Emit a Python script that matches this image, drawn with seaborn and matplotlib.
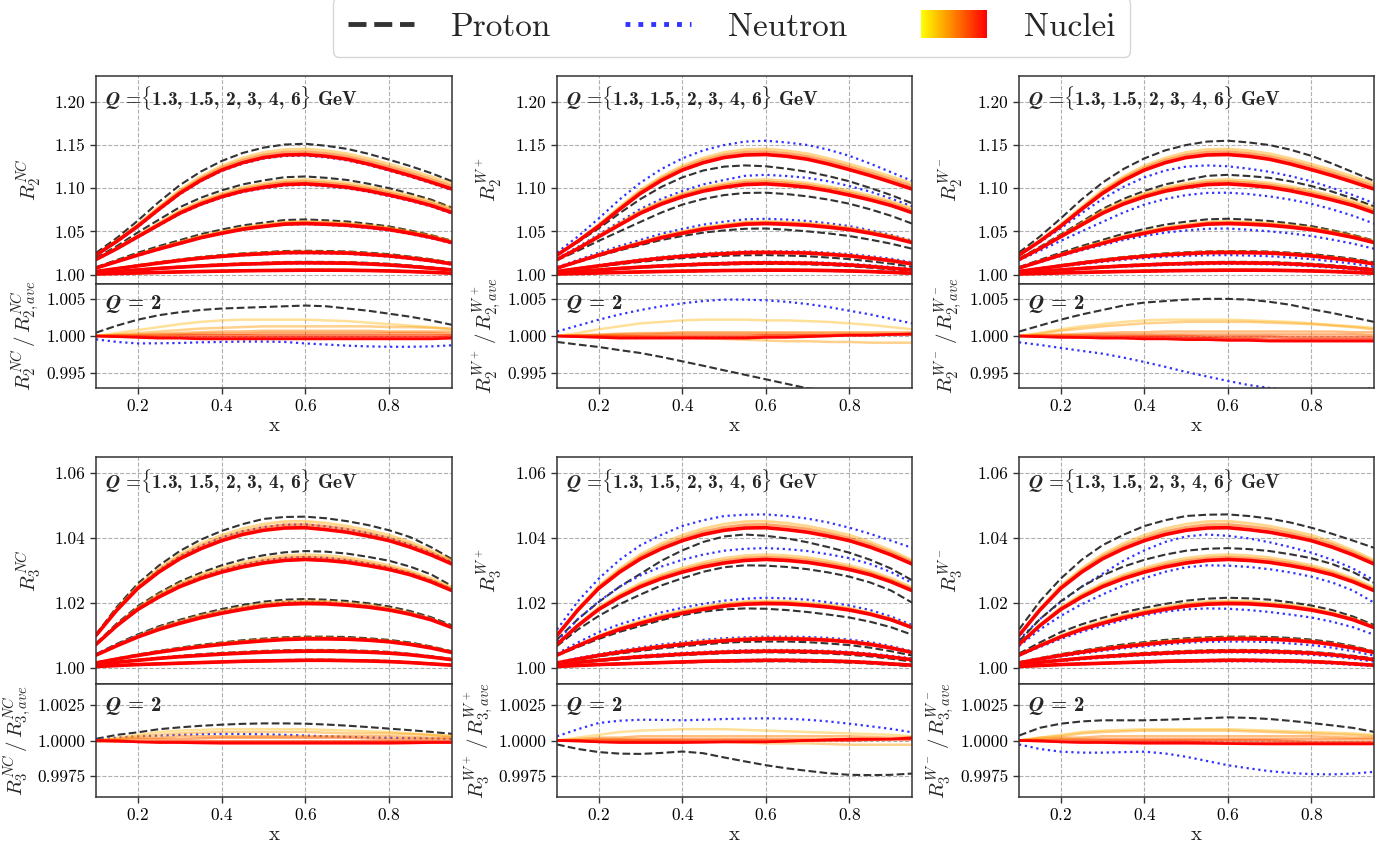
import matplotlib
matplotlib.use("Agg")
import matplotlib.pyplot as plt
import seaborn as sns
from matplotlib.lines import Line2D
from matplotlib.patches import Rectangle
from matplotlib.legend_handler import HandlerBase
from matplotlib.ticker import FormatStrFormatter, FixedLocator

# ---------------------------------------------------------------- data
x_grid = [0.10, 0.15, 0.20, 0.25, 0.30, 0.35, 0.40, 0.45, 0.50,
          0.55, 0.60, 0.65, 0.70, 0.75, 0.80, 0.85, 0.90, 0.95]
q_values = [1.3, 1.5, 2, 3, 4, 6]

# F2 nuclei (light, intermediate, heavy), one row per Q
r2_nuclei_light = [
    [1.0225, 1.0395, 1.0580, 1.0785, 1.0980, 1.1135, 1.1260, 1.1350, 1.1415, 1.1448, 1.1455, 1.1435, 1.1400, 1.1345, 1.1280, 1.1211, 1.1135, 1.1055],
    [1.0174, 1.0308, 1.0453, 1.0597, 1.0740, 1.0850, 1.0938, 1.1008, 1.1055, 1.1090, 1.1100, 1.1084, 1.1060, 1.1020, 1.0970, 1.0914, 1.0850, 1.0767],
    [1.0075, 1.0155, 1.0235, 1.0310, 1.0378, 1.0446, 1.0499, 1.0547, 1.0579, 1.0608, 1.0615, 1.0607, 1.0595, 1.0572, 1.0543, 1.0500, 1.0450, 1.0388],
    [1.0035, 1.0070, 1.0104, 1.0138, 1.0169, 1.0197, 1.0219, 1.0237, 1.0250, 1.0262, 1.0265, 1.0262, 1.0258, 1.0243, 1.0225, 1.0199, 1.0169, 1.0130],
    [1.0018, 1.0036, 1.0055, 1.0073, 1.0088, 1.0103, 1.0114, 1.0124, 1.0131, 1.0138, 1.0140, 1.0138, 1.0136, 1.0127, 1.0115, 1.0098, 1.0077, 1.0057],
    [1.0006, 1.0012, 1.0019, 1.0025, 1.0031, 1.0036, 1.0041, 1.0045, 1.0048, 1.0050, 1.0052, 1.0052, 1.0051, 1.0048, 1.0043, 1.0036, 1.0027, 1.0017],
]
r2_nuclei_mid = [
    [1.0225, 1.0390, 1.0570, 1.0770, 1.0960, 1.1113, 1.1235, 1.1323, 1.1385, 1.1417, 1.1423, 1.1403, 1.1368, 1.1313, 1.1248, 1.1179, 1.1103, 1.1023],
    [1.0174, 1.0304, 1.0446, 1.0586, 1.0725, 1.0833, 1.0919, 1.0987, 1.1033, 1.1066, 1.1075, 1.1059, 1.1035, 1.0995, 1.0945, 1.0889, 1.0825, 1.0742],
    [1.0075, 1.0153, 1.0230, 1.0303, 1.0369, 1.0436, 1.0488, 1.0536, 1.0567, 1.0596, 1.0603, 1.0595, 1.0583, 1.0560, 1.0532, 1.0489, 1.0440, 1.0379],
    [1.0035, 1.0069, 1.0102, 1.0135, 1.0166, 1.0193, 1.0215, 1.0233, 1.0245, 1.0257, 1.0260, 1.0257, 1.0253, 1.0238, 1.0220, 1.0194, 1.0165, 1.0126],
    [1.0018, 1.0036, 1.0054, 1.0072, 1.0087, 1.0101, 1.0112, 1.0122, 1.0129, 1.0136, 1.0138, 1.0136, 1.0134, 1.0125, 1.0113, 1.0096, 1.0075, 1.0055],
    [1.0006, 1.0012, 1.0018, 1.0024, 1.0030, 1.0035, 1.0040, 1.0044, 1.0047, 1.0049, 1.0051, 1.0051, 1.0050, 1.0047, 1.0042, 1.0035, 1.0026, 1.0016],
]
r2_nuclei_heavy = [
    [1.0225, 1.0385, 1.0560, 1.0755, 1.0940, 1.1090, 1.1210, 1.1295, 1.1355, 1.1385, 1.1390, 1.1370, 1.1335, 1.1280, 1.1215, 1.1146, 1.1070, 1.0990],
    [1.0174, 1.0300, 1.0438, 1.0575, 1.0710, 1.0816, 1.0900, 1.0966, 1.1010, 1.1042, 1.1050, 1.1034, 1.1010, 1.0970, 1.0920, 1.0864, 1.0800, 1.0717],
    [1.0075, 1.0150, 1.0225, 1.0295, 1.0360, 1.0426, 1.0477, 1.0524, 1.0555, 1.0583, 1.0590, 1.0582, 1.0570, 1.0548, 1.0520, 1.0478, 1.0430, 1.0370],
    [1.0035, 1.0068, 1.0100, 1.0132, 1.0162, 1.0189, 1.0210, 1.0228, 1.0240, 1.0252, 1.0255, 1.0252, 1.0248, 1.0233, 1.0215, 1.0189, 1.0160, 1.0122],
    [1.0018, 1.0035, 1.0053, 1.0070, 1.0085, 1.0099, 1.0110, 1.0120, 1.0126, 1.0133, 1.0135, 1.0133, 1.0131, 1.0122, 1.0110, 1.0093, 1.0073, 1.0053],
    [1.0006, 1.0012, 1.0018, 1.0024, 1.0030, 1.0035, 1.0039, 1.0043, 1.0046, 1.0048, 1.0050, 1.0050, 1.0049, 1.0046, 1.0041, 1.0034, 1.0025, 1.0015],
]

# F2 neutral current, free nucleons
r2_nc_proton = [
    [1.0250, 1.0425, 1.0625, 1.0840, 1.1035, 1.1192, 1.1315, 1.1408, 1.1470, 1.1506, 1.1515, 1.1491, 1.1455, 1.1399, 1.1330, 1.1257, 1.1175, 1.1080],
    [1.0190, 1.0330, 1.0488, 1.0635, 1.0780, 1.0889, 1.0975, 1.1044, 1.1090, 1.1127, 1.1136, 1.1120, 1.1095, 1.1052, 1.1000, 1.0938, 1.0868, 1.0775],
    [1.0085, 1.0169, 1.0253, 1.0329, 1.0398, 1.0467, 1.0521, 1.0569, 1.0601, 1.0631, 1.0638, 1.0628, 1.0614, 1.0588, 1.0557, 1.0510, 1.0457, 1.0391],
    [1.0036, 1.0072, 1.0108, 1.0143, 1.0175, 1.0204, 1.0226, 1.0245, 1.0258, 1.0272, 1.0275, 1.0272, 1.0267, 1.0253, 1.0236, 1.0208, 1.0177, 1.0136],
    [1.0019, 1.0038, 1.0057, 1.0075, 1.0091, 1.0106, 1.0118, 1.0129, 1.0136, 1.0145, 1.0147, 1.0146, 1.0144, 1.0135, 1.0124, 1.0105, 1.0084, 1.0061],
    [1.0006, 1.0013, 1.0020, 1.0026, 1.0032, 1.0037, 1.0042, 1.0047, 1.0050, 1.0053, 1.0054, 1.0054, 1.0053, 1.0050, 1.0045, 1.0038, 1.0028, 1.0018],
]
r2_nc_neutron = [
    [1.0222, 1.0379, 1.0552, 1.0746, 1.0930, 1.1080, 1.1199, 1.1284, 1.1343, 1.1373, 1.1377, 1.1357, 1.1322, 1.1268, 1.1203, 1.1134, 1.1058, 1.0978],
    [1.0171, 1.0295, 1.0431, 1.0567, 1.0701, 1.0807, 1.0890, 1.0956, 1.0999, 1.1031, 1.1038, 1.1022, 1.0998, 1.0958, 1.0908, 1.0853, 1.0789, 1.0707],
    [1.0076, 1.0147, 1.0220, 1.0290, 1.0355, 1.0422, 1.0475, 1.0522, 1.0553, 1.0578, 1.0584, 1.0575, 1.0561, 1.0538, 1.0510, 1.0468, 1.0420, 1.0362],
    [1.0034, 1.0066, 1.0097, 1.0128, 1.0157, 1.0183, 1.0204, 1.0222, 1.0233, 1.0245, 1.0247, 1.0244, 1.0239, 1.0224, 1.0206, 1.0181, 1.0152, 1.0115],
    [1.0017, 1.0034, 1.0051, 1.0067, 1.0082, 1.0095, 1.0106, 1.0115, 1.0121, 1.0127, 1.0129, 1.0127, 1.0125, 1.0116, 1.0105, 1.0088, 1.0069, 1.0050],
    [1.0006, 1.0011, 1.0017, 1.0023, 1.0028, 1.0033, 1.0037, 1.0041, 1.0044, 1.0046, 1.0047, 1.0047, 1.0046, 1.0043, 1.0039, 1.0032, 1.0023, 1.0013],
]

# F2 W+ exchange, free nucleons
r2_wp_proton = [
    [1.0230, 1.0375, 1.0535, 1.0710, 1.0875, 1.1015, 1.1125, 1.1205, 1.1250, 1.1264, 1.1254, 1.1226, 1.1190, 1.1140, 1.1080, 1.1003, 1.0920, 1.0826],
    [1.0165, 1.0275, 1.0390, 1.0500, 1.0610, 1.0718, 1.0810, 1.0875, 1.0920, 1.0945, 1.0948, 1.0932, 1.0905, 1.0868, 1.0820, 1.0755, 1.0680, 1.0590],
    [1.0072, 1.0143, 1.0215, 1.0280, 1.0341, 1.0400, 1.0446, 1.0485, 1.0511, 1.0530, 1.0533, 1.0519, 1.0500, 1.0476, 1.0446, 1.0404, 1.0357, 1.0299],
    [1.0033, 1.0063, 1.0092, 1.0120, 1.0147, 1.0170, 1.0190, 1.0206, 1.0217, 1.0223, 1.0225, 1.0220, 1.0212, 1.0197, 1.0178, 1.0153, 1.0125, 1.0090],
    [1.0017, 1.0033, 1.0049, 1.0065, 1.0079, 1.0091, 1.0101, 1.0110, 1.0116, 1.0121, 1.0123, 1.0122, 1.0118, 1.0109, 1.0097, 1.0079, 1.0058, 1.0035],
    [1.0006, 1.0011, 1.0017, 1.0022, 1.0027, 1.0031, 1.0035, 1.0038, 1.0041, 1.0043, 1.0044, 1.0044, 1.0043, 1.0041, 1.0037, 1.0029, 1.0019, 1.0009],
]
r2_wp_neutron = [
    [1.0255, 1.0440, 1.0650, 1.0870, 1.1065, 1.1222, 1.1345, 1.1438, 1.1500, 1.1540, 1.1550, 1.1530, 1.1500, 1.1446, 1.1375, 1.1285, 1.1185, 1.1085],
    [1.0185, 1.0320, 1.0465, 1.0612, 1.0760, 1.0876, 1.0968, 1.1044, 1.1095, 1.1143, 1.1155, 1.1141, 1.1120, 1.1080, 1.1025, 1.0960, 1.0880, 1.0790],
    [1.0086, 1.0169, 1.0253, 1.0330, 1.0401, 1.0472, 1.0528, 1.0578, 1.0612, 1.0639, 1.0646, 1.0636, 1.0620, 1.0593, 1.0561, 1.0513, 1.0459, 1.0393],
    [1.0037, 1.0073, 1.0108, 1.0143, 1.0175, 1.0203, 1.0225, 1.0245, 1.0258, 1.0268, 1.0271, 1.0270, 1.0266, 1.0253, 1.0237, 1.0212, 1.0183, 1.0142],
    [1.0019, 1.0038, 1.0057, 1.0075, 1.0092, 1.0107, 1.0119, 1.0129, 1.0137, 1.0144, 1.0147, 1.0146, 1.0144, 1.0135, 1.0124, 1.0107, 1.0087, 1.0066],
    [1.0006, 1.0013, 1.0020, 1.0026, 1.0032, 1.0037, 1.0042, 1.0047, 1.0050, 1.0053, 1.0054, 1.0054, 1.0053, 1.0050, 1.0046, 1.0039, 1.0030, 1.0020],
]
# charge symmetry: W- on a proton is W+ on a neutron and vice versa
r2_wm_proton = r2_wp_neutron
r2_wm_neutron = r2_wp_proton

# F3 nuclei (light, intermediate, heavy)
r3_nuclei_light = [
    [1.0100, 1.0182, 1.0253, 1.0306, 1.0350, 1.0383, 1.0409, 1.0429, 1.0443, 1.0451, 1.0452, 1.0446, 1.0437, 1.0424, 1.0409, 1.0388, 1.0362, 1.0332],
    [1.0072, 1.0133, 1.0186, 1.0227, 1.0261, 1.0287, 1.0308, 1.0325, 1.0338, 1.0346, 1.0349, 1.0346, 1.0340, 1.0329, 1.0316, 1.0299, 1.0276, 1.0248],
    [1.0039, 1.0070, 1.0099, 1.0124, 1.0144, 1.0162, 1.0176, 1.0188, 1.0198, 1.0204, 1.0206, 1.0205, 1.0200, 1.0194, 1.0184, 1.0170, 1.0152, 1.0127],
    [1.0015, 1.0028, 1.0040, 1.0050, 1.0060, 1.0068, 1.0076, 1.0082, 1.0087, 1.0091, 1.0093, 1.0093, 1.0091, 1.0088, 1.0083, 1.0075, 1.0064, 1.0049],
    [1.0010, 1.0017, 1.0024, 1.0030, 1.0035, 1.0040, 1.0044, 1.0047, 1.0050, 1.0052, 1.0053, 1.0053, 1.0052, 1.0050, 1.0046, 1.0041, 1.0034, 1.0026],
    [1.0004, 1.0007, 1.0010, 1.0013, 1.0015, 1.0017, 1.0019, 1.0021, 1.0022, 1.0023, 1.0024, 1.0024, 1.0023, 1.0022, 1.0020, 1.0017, 1.0013, 1.0009],
]
r3_nuclei_mid = [
    [1.0100, 1.0180, 1.0249, 1.0300, 1.0343, 1.0375, 1.0400, 1.0420, 1.0433, 1.0441, 1.0442, 1.0436, 1.0428, 1.0415, 1.0400, 1.0380, 1.0355, 1.0326],
    [1.0072, 1.0131, 1.0183, 1.0222, 1.0255, 1.0281, 1.0301, 1.0318, 1.0330, 1.0338, 1.0341, 1.0338, 1.0332, 1.0322, 1.0309, 1.0293, 1.0270, 1.0243],
    [1.0039, 1.0069, 1.0097, 1.0121, 1.0140, 1.0158, 1.0172, 1.0184, 1.0194, 1.0200, 1.0202, 1.0201, 1.0196, 1.0190, 1.0181, 1.0167, 1.0150, 1.0125],
    [1.0015, 1.0027, 1.0039, 1.0049, 1.0058, 1.0066, 1.0074, 1.0080, 1.0085, 1.0089, 1.0091, 1.0091, 1.0089, 1.0086, 1.0081, 1.0073, 1.0062, 1.0048],
    [1.0010, 1.0017, 1.0023, 1.0029, 1.0035, 1.0039, 1.0043, 1.0046, 1.0049, 1.0051, 1.0052, 1.0052, 1.0051, 1.0049, 1.0046, 1.0041, 1.0033, 1.0025],
    [1.0004, 1.0007, 1.0010, 1.0012, 1.0014, 1.0016, 1.0018, 1.0020, 1.0021, 1.0022, 1.0023, 1.0023, 1.0022, 1.0021, 1.0019, 1.0016, 1.0012, 1.0008],
]
r3_nuclei_heavy = [
    [1.0100, 1.0178, 1.0245, 1.0295, 1.0336, 1.0367, 1.0392, 1.0411, 1.0424, 1.0431, 1.0432, 1.0426, 1.0418, 1.0406, 1.0392, 1.0372, 1.0348, 1.0320],
    [1.0072, 1.0130, 1.0180, 1.0218, 1.0250, 1.0275, 1.0295, 1.0311, 1.0323, 1.0331, 1.0334, 1.0331, 1.0325, 1.0315, 1.0303, 1.0287, 1.0265, 1.0238],
    [1.0039, 1.0068, 1.0095, 1.0118, 1.0137, 1.0154, 1.0168, 1.0180, 1.0190, 1.0196, 1.0198, 1.0197, 1.0193, 1.0187, 1.0178, 1.0165, 1.0148, 1.0124],
    [1.0015, 1.0027, 1.0038, 1.0048, 1.0057, 1.0065, 1.0072, 1.0078, 1.0083, 1.0087, 1.0089, 1.0089, 1.0088, 1.0085, 1.0080, 1.0072, 1.0061, 1.0047],
    [1.0010, 1.0017, 1.0023, 1.0029, 1.0034, 1.0038, 1.0042, 1.0045, 1.0048, 1.0050, 1.0051, 1.0051, 1.0050, 1.0048, 1.0045, 1.0040, 1.0033, 1.0025],
    [1.0004, 1.0007, 1.0010, 1.0012, 1.0014, 1.0016, 1.0018, 1.0020, 1.0021, 1.0022, 1.0023, 1.0023, 1.0022, 1.0021, 1.0019, 1.0016, 1.0012, 1.0008],
]

# F3 neutral current, free nucleons
r3_nc_proton = [
    [1.0103, 1.0188, 1.0260, 1.0315, 1.0360, 1.0395, 1.0422, 1.0443, 1.0459, 1.0465, 1.0466, 1.0461, 1.0452, 1.0440, 1.0424, 1.0403, 1.0372, 1.0335],
    [1.0075, 1.0137, 1.0190, 1.0231, 1.0266, 1.0293, 1.0316, 1.0334, 1.0347, 1.0356, 1.0360, 1.0358, 1.0352, 1.0342, 1.0330, 1.0312, 1.0288, 1.0252],
    [1.0042, 1.0074, 1.0103, 1.0128, 1.0148, 1.0166, 1.0181, 1.0194, 1.0204, 1.0210, 1.0212, 1.0210, 1.0206, 1.0199, 1.0189, 1.0175, 1.0156, 1.0131],
    [1.0016, 1.0029, 1.0041, 1.0052, 1.0062, 1.0071, 1.0078, 1.0085, 1.0090, 1.0094, 1.0096, 1.0096, 1.0095, 1.0091, 1.0086, 1.0078, 1.0066, 1.0051],
    [1.0010, 1.0018, 1.0025, 1.0031, 1.0037, 1.0042, 1.0046, 1.0049, 1.0052, 1.0054, 1.0055, 1.0055, 1.0054, 1.0052, 1.0049, 1.0043, 1.0036, 1.0027],
    [1.0004, 1.0007, 1.0010, 1.0013, 1.0015, 1.0017, 1.0019, 1.0021, 1.0023, 1.0024, 1.0025, 1.0025, 1.0024, 1.0023, 1.0021, 1.0017, 1.0013, 1.0009],
]
r3_nc_neutron = [
    [1.0101, 1.0181, 1.0250, 1.0302, 1.0344, 1.0376, 1.0402, 1.0421, 1.0434, 1.0441, 1.0442, 1.0436, 1.0427, 1.0415, 1.0400, 1.0379, 1.0354, 1.0325],
    [1.0073, 1.0132, 1.0184, 1.0223, 1.0256, 1.0281, 1.0302, 1.0318, 1.0331, 1.0339, 1.0342, 1.0339, 1.0332, 1.0322, 1.0309, 1.0292, 1.0270, 1.0242],
    [1.0042, 1.0072, 1.0100, 1.0124, 1.0143, 1.0160, 1.0175, 1.0186, 1.0196, 1.0202, 1.0204, 1.0202, 1.0198, 1.0191, 1.0182, 1.0169, 1.0152, 1.0127],
    [1.0015, 1.0027, 1.0039, 1.0049, 1.0058, 1.0066, 1.0074, 1.0080, 1.0085, 1.0089, 1.0091, 1.0091, 1.0090, 1.0086, 1.0081, 1.0073, 1.0062, 1.0047],
    [1.0010, 1.0017, 1.0023, 1.0029, 1.0035, 1.0039, 1.0043, 1.0046, 1.0049, 1.0051, 1.0052, 1.0052, 1.0051, 1.0049, 1.0046, 1.0041, 1.0034, 1.0026],
    [1.0004, 1.0007, 1.0010, 1.0012, 1.0014, 1.0016, 1.0018, 1.0020, 1.0021, 1.0022, 1.0023, 1.0023, 1.0022, 1.0021, 1.0019, 1.0016, 1.0012, 1.0008],
]

# F3 W+ exchange, free nucleons
r3_wp_proton = [
    [1.0087, 1.0150, 1.0203, 1.0250, 1.0290, 1.0330, 1.0362, 1.0388, 1.0405, 1.0411, 1.0407, 1.0399, 1.0387, 1.0372, 1.0355, 1.0333, 1.0306, 1.0270],
    [1.0067, 1.0118, 1.0160, 1.0196, 1.0226, 1.0254, 1.0276, 1.0296, 1.0310, 1.0316, 1.0315, 1.0311, 1.0304, 1.0294, 1.0281, 1.0263, 1.0238, 1.0201],
    [1.0038, 1.0064, 1.0089, 1.0111, 1.0129, 1.0147, 1.0162, 1.0173, 1.0180, 1.0183, 1.0182, 1.0178, 1.0172, 1.0164, 1.0155, 1.0142, 1.0125, 1.0102],
    [1.0014, 1.0025, 1.0035, 1.0044, 1.0052, 1.0060, 1.0066, 1.0072, 1.0077, 1.0080, 1.0081, 1.0081, 1.0079, 1.0075, 1.0070, 1.0062, 1.0051, 1.0038],
    [1.0010, 1.0016, 1.0021, 1.0026, 1.0031, 1.0035, 1.0039, 1.0042, 1.0045, 1.0047, 1.0048, 1.0047, 1.0046, 1.0044, 1.0040, 1.0035, 1.0028, 1.0019],
    [1.0004, 1.0006, 1.0009, 1.0011, 1.0013, 1.0015, 1.0016, 1.0018, 1.0019, 1.0020, 1.0020, 1.0020, 1.0019, 1.0018, 1.0016, 1.0013, 1.0009, 1.0005],
]
r3_wp_neutron = [
    [1.0118, 1.0205, 1.0275, 1.0333, 1.0378, 1.0410, 1.0437, 1.0455, 1.0468, 1.0472, 1.0473, 1.0468, 1.0460, 1.0448, 1.0432, 1.0413, 1.0392, 1.0370],
    [1.0082, 1.0150, 1.0205, 1.0250, 1.0285, 1.0312, 1.0333, 1.0349, 1.0361, 1.0367, 1.0369, 1.0366, 1.0360, 1.0350, 1.0338, 1.0320, 1.0295, 1.0262],
    [1.0044, 1.0078, 1.0110, 1.0134, 1.0154, 1.0171, 1.0185, 1.0197, 1.0207, 1.0213, 1.0216, 1.0214, 1.0210, 1.0202, 1.0192, 1.0178, 1.0158, 1.0132],
    [1.0017, 1.0030, 1.0042, 1.0053, 1.0063, 1.0072, 1.0079, 1.0086, 1.0091, 1.0094, 1.0096, 1.0096, 1.0095, 1.0092, 1.0087, 1.0079, 1.0067, 1.0051],
    [1.0011, 1.0018, 1.0025, 1.0031, 1.0037, 1.0042, 1.0046, 1.0049, 1.0052, 1.0054, 1.0055, 1.0055, 1.0054, 1.0052, 1.0049, 1.0044, 1.0037, 1.0029],
    [1.0004, 1.0007, 1.0010, 1.0013, 1.0015, 1.0017, 1.0019, 1.0021, 1.0023, 1.0024, 1.0025, 1.0025, 1.0024, 1.0023, 1.0021, 1.0018, 1.0014, 1.0009],
]
r3_wm_proton = r3_wp_neutron
r3_wm_neutron = r3_wp_proton

# Q = 2 GeV ratios to the nuclear average
ratio_r2_nc_proton = [1.00045, 1.0014, 1.0022, 1.0028, 1.0032, 1.0035, 1.0037, 1.0038, 1.0039, 1.0040, 1.0041, 1.0040, 1.0037, 1.0034, 1.0030, 1.0026, 1.0021, 1.0015]
ratio_r2_nc_neutron = [0.99955, 0.9992, 0.9990, 0.99902, 0.99906, 0.99915, 0.9992, 0.99925, 0.99925, 0.9992, 0.9990, 0.99885, 0.9987, 0.9986, 0.99855, 0.99855, 0.9986, 0.99875]
ratio_r2_nc_nuclei = [
    [1.0, 1.0004, 1.0008, 1.0012, 1.0016, 1.0019, 1.0021, 1.0022, 1.0022, 1.0022, 1.0022, 1.0021, 1.0020, 1.0018, 1.0016, 1.0014, 1.0012, 1.0009],
    [1.0, 1.0002, 1.0004, 1.0006, 1.0008, 1.0010, 1.0011, 1.0012, 1.0013, 1.0013, 1.0013, 1.0013, 1.0013, 1.0013, 1.0012, 1.0012, 1.0011, 1.0010],
    [1.0, 1.0001, 1.0002, 1.0003, 1.0004, 1.0005, 1.0006, 1.0006, 1.0007, 1.0007, 1.0007, 1.0007, 1.0007, 1.0007, 1.0006, 1.0006, 1.0006, 1.0006],
    [1.0, 1.0001, 1.0001, 1.0002, 1.0002, 1.0003, 1.0003, 1.0003, 1.0004, 1.0004, 1.0004, 1.0004, 1.0004, 1.0004, 1.0004, 1.0004, 1.0004, 1.0003],
    [1.0, 1.0, 1.0, 1.0, 1.0001, 1.0001, 1.0001, 1.0001, 1.0001, 1.0001, 1.0001, 1.0001, 1.0001, 1.0001, 1.0001, 1.0001, 1.0001, 1.0001],
    [1.0, 0.9999, 0.9999, 0.9998, 0.9998, 0.9998, 0.9998, 0.9998, 0.9998, 0.9998, 0.9998, 0.9998, 0.9998, 0.9998, 0.9998, 0.9998, 0.9998, 0.9999],
    [1.0, 0.9999, 0.9998, 0.9997, 0.9997, 0.9996, 0.9996, 0.9996, 0.9996, 0.9996, 0.9996, 0.9996, 0.9996, 0.9996, 0.9996, 0.9996, 0.9996, 0.9997],
]
ratio_r2_wp_proton = [0.9992, 0.99885, 0.99852, 0.9981, 0.99771, 0.99718, 0.99659, 0.99600, 0.99538, 0.99478, 0.99417, 0.99356, 0.99295, 0.99270, 0.9925, 0.9924, 0.9925, 0.9927]
ratio_r2_wp_neutron = [1.0006, 1.0014, 1.0022, 1.0029, 1.0035, 1.0040, 1.0044, 1.0047, 1.0049, 1.0049, 1.0048, 1.0046, 1.0043, 1.0039, 1.0034, 1.0029, 1.0023, 1.0017]
ratio_r2_wp_nuclei = [
    [1.0, 1.0004, 1.0009, 1.0013, 1.0017, 1.0019, 1.0021, 1.0022, 1.0022, 1.0022, 1.0021, 1.0021, 1.0020, 1.0019, 1.0017, 1.0015, 1.0012, 1.0009],
    [1.0, 1.0, 1.0, 1.0, 0.9999, 0.9999, 0.9998, 0.9997, 0.9996, 0.9995, 0.9994, 0.9993, 0.9993, 0.9992, 0.9992, 0.9991, 0.9991, 0.9991],
    [1.0, 1.0001, 1.0002, 1.0003, 1.0004, 1.0004, 1.0005, 1.0005, 1.0005, 1.0005, 1.0005, 1.0005, 1.0005, 1.0005, 1.0005, 1.0005, 1.0005, 1.0005],
    [1.0, 1.0001, 1.0001, 1.0002, 1.0002, 1.0003, 1.0003, 1.0003, 1.0003, 1.0003, 1.0003, 1.0003, 1.0003, 1.0003, 1.0003, 1.0003, 1.0003, 1.0003],
    [1.0, 1.0, 1.0, 1.0, 1.0, 1.0, 1.0, 1.0, 1.0, 1.0, 1.0001, 1.0001, 1.0001, 1.0001, 1.0002, 1.0002, 1.0002, 1.0002],
    [1.0, 0.9999, 0.9999, 0.9998, 0.9998, 0.9998, 0.9998, 0.9998, 0.9998, 0.9998, 0.9999, 0.9999, 1.0, 1.0, 1.0001, 1.0001, 1.0002, 1.0002],
    [1.0, 0.9999, 0.9998, 0.9997, 0.9997, 0.9997, 0.9997, 0.9997, 0.9997, 0.9997, 0.9998, 0.9998, 0.9999, 1.0, 1.0001, 1.0001, 1.0002, 1.0003],
]
ratio_r2_wm_proton = [1.0006, 1.0014, 1.0022, 1.0029, 1.0035, 1.0041, 1.0045, 1.0047, 1.0049, 1.0050, 1.0050, 1.0049, 1.0046, 1.0042, 1.0036, 1.0031, 1.0025, 1.0019]
ratio_r2_wm_neutron = [0.99915, 0.9988, 0.99839, 0.9980, 0.99762, 0.99710, 0.9965, 0.99585, 0.99516, 0.99455, 0.99395, 0.9934, 0.9930, 0.99275, 0.9926, 0.9926, 0.9927, 0.99305]
ratio_r2_wm_nuclei = [
    [1.0, 1.0004, 1.0009, 1.0013, 1.0016, 1.0019, 1.0021, 1.0022, 1.0022, 1.0022, 1.0022, 1.0021, 1.0020, 1.0019, 1.0017, 1.0015, 1.0013, 1.0011],
    [1.0, 1.0003, 1.0007, 1.0010, 1.0013, 1.0015, 1.0017, 1.0018, 1.0019, 1.0019, 1.0019, 1.0019, 1.0018, 1.0017, 1.0016, 1.0014, 1.0012, 1.0009],
    [1.0, 1.0001, 1.0002, 1.0003, 1.0004, 1.0005, 1.0005, 1.0006, 1.0006, 1.0006, 1.0006, 1.0006, 1.0006, 1.0006, 1.0006, 1.0006, 1.0005, 1.0005],
    [1.0, 1.0001, 1.0001, 1.0001, 1.0002, 1.0002, 1.0002, 1.0002, 1.0002, 1.0002, 1.0002, 1.0002, 1.0002, 1.0002, 1.0002, 1.0002, 1.0002, 1.0001],
    [1.0, 1.0, 1.0, 1.0, 1.0, 1.0, 1.0, 1.0, 1.0, 0.9999, 0.9999, 0.9999, 0.9999, 0.9998, 0.9998, 0.9998, 0.9998, 0.9998],
    [1.0, 0.9999, 0.9999, 0.9998, 0.9998, 0.9998, 0.9998, 0.9998, 0.9997, 0.9997, 0.9996, 0.9996, 0.9995, 0.9995, 0.9995, 0.9995, 0.9995, 0.9995],
    [1.0, 0.9999, 0.9998, 0.9998, 0.9997, 0.9997, 0.9996, 0.9996, 0.9995, 0.9995, 0.9994, 0.9994, 0.9993, 0.9993, 0.9993, 0.9993, 0.9993, 0.9993],
]
ratio_r3_nc_proton = [1.00012, 1.0004, 1.00058, 1.0008, 1.00093, 1.00104, 1.00112, 1.00118, 1.00121, 1.00121, 1.00119, 1.00113, 1.00105, 1.00095, 1.00084, 1.00073, 1.00061, 1.00047]
ratio_r3_nc_neutron = [1.00007, 1.0002, 1.0003, 1.00035, 1.0004, 1.00044, 1.00047, 1.00046, 1.00044, 1.0004, 1.00035, 1.0003, 1.00026, 1.00022, 1.00019, 1.00017, 1.00015, 1.00012]
ratio_r3_nc_nuclei = [
    [1.0, 1.0002, 1.0004, 1.0006, 1.0007, 1.00075, 1.0008, 1.0008, 1.0008, 1.0008, 1.0008, 1.00075, 1.0007, 1.00065, 1.0006, 1.0005, 1.0004, 1.0003],
    [1.0, 1.0001, 1.0003, 1.0004, 1.0005, 1.00055, 1.0006, 1.0006, 1.0006, 1.0006, 1.0006, 1.00055, 1.0005, 1.0005, 1.0005, 1.00045, 1.0004, 1.0003],
    [1.0, 1.0001, 1.0002, 1.0002, 1.0003, 1.0003, 1.0003, 1.0003, 1.0003, 1.0003, 1.0003, 1.0003, 1.0003, 1.0003, 1.0003, 1.00025, 1.0002, 1.0002],
    [1.0, 1.0, 1.0001, 1.0001, 1.0001, 1.00015, 1.0002, 1.0002, 1.0002, 1.0002, 1.0002, 1.0002, 1.0002, 1.00015, 1.0001, 1.0001, 1.0001, 1.0001],
    [1.0, 1.0, 1.0, 1.0, 1.0, 1.0, 1.0, 1.0, 1.0, 1.0, 1.0, 1.0, 1.0, 1.0, 1.0, 1.0, 1.0, 1.0],
    [1.0, 1.0, 0.9999, 0.9999, 0.9999, 0.9999, 0.9999, 0.9999, 0.9999, 0.9999, 0.9999, 0.9999, 0.9999, 0.9999, 0.9999, 0.9999, 0.9999, 0.9999],
    [1.0, 0.99995, 0.9999, 0.99985, 0.99985, 0.99982, 0.9998, 0.9998, 0.9998, 0.9998, 0.9998, 0.9998, 0.9998, 0.9998, 0.9998, 0.99982, 0.99985, 0.99985],
]
ratio_r3_wp_proton = [0.99972, 0.9994, 0.99918, 0.99907, 0.99905, 0.99912, 0.99922, 0.99910, 0.9988, 0.99852, 0.99825, 0.99803, 0.99785, 0.99768, 0.99757, 0.99755, 0.99757, 0.99766]
ratio_r3_wp_neutron = [1.0003, 1.0008, 1.00124, 1.0014, 1.00147, 1.00146, 1.00143, 1.00147, 1.00152, 1.00155, 1.00157, 1.00154, 1.00147, 1.00135, 1.00119, 1.00101, 1.00082, 1.00058]
ratio_r3_wp_nuclei = [
    [1.0, 1.0002, 1.0004, 1.0006, 1.0007, 1.00075, 1.0008, 1.0008, 1.0008, 1.00075, 1.0007, 1.00065, 1.0006, 1.00055, 1.0005, 1.00045, 1.0004, 1.0003],
    [1.0, 1.0, 1.0, 1.0, 1.0, 1.0, 0.9999, 0.9999, 0.9999, 0.99985, 0.9998, 0.9998, 0.9998, 0.99975, 0.9997, 0.9997, 0.9997, 0.9997],
    [1.0, 1.0001, 1.0002, 1.0002, 1.0003, 1.0003, 1.0003, 1.0003, 1.0003, 1.0003, 1.0003, 1.0003, 1.0003, 1.0003, 1.0003, 1.00025, 1.0002, 1.0002],
    [1.0, 1.0, 1.0001, 1.0001, 1.0001, 1.0001, 1.0001, 1.0001, 1.0001, 1.0001, 1.0001, 1.0001, 1.0001, 1.0001, 1.0001, 1.0001, 1.0001, 1.0001],
    [1.0, 1.0, 1.0, 1.0, 1.0, 1.0, 1.0, 1.0, 1.0, 1.0, 1.0, 1.0, 1.0, 1.00005, 1.0001, 1.0001, 1.0001, 1.0001],
    [1.0, 1.0, 0.9999, 0.9999, 0.9999, 0.9999, 0.9999, 0.9999, 0.9999, 0.9999, 0.9999, 0.99995, 1.0, 1.0, 1.0, 1.00005, 1.0001, 1.0001],
    [1.0, 0.99995, 0.9999, 0.99985, 0.99985, 0.99985, 0.99985, 0.99987, 0.9999, 0.9999, 0.9999, 0.99995, 1.0, 1.00005, 1.0001, 1.0001, 1.0001, 1.0002],
]
ratio_r3_wm_proton = [1.00035, 1.0009, 1.00119, 1.00135, 1.00143, 1.00143, 1.00143, 1.00147, 1.00152, 1.00158, 1.00164, 1.00160, 1.00152, 1.00139, 1.00124, 1.00107, 1.00089, 1.00061]
ratio_r3_wm_neutron = [0.99972, 0.9994, 0.99921, 0.99914, 0.99914, 0.99918, 0.99921, 0.99908, 0.99885, 0.99855, 0.99825, 0.99803, 0.99783, 0.99770, 0.99762, 0.99760, 0.99766, 0.99778]
ratio_r3_wm_nuclei = [
    [1.0, 1.0002, 1.0004, 1.0006, 1.0007, 1.00075, 1.0008, 1.0008, 1.0008, 1.0008, 1.0008, 1.00075, 1.0007, 1.00065, 1.0006, 1.00055, 1.0005, 1.0004],
    [1.0, 1.0002, 1.0003, 1.0005, 1.0006, 1.00065, 1.0007, 1.0007, 1.0007, 1.0007, 1.0007, 1.00065, 1.0006, 1.00055, 1.0005, 1.00045, 1.0004, 1.0003],
    [1.0, 1.0001, 1.0002, 1.0002, 1.0003, 1.0003, 1.0003, 1.0003, 1.0003, 1.0003, 1.0003, 1.0003, 1.0003, 1.0003, 1.0003, 1.00025, 1.0002, 1.0002],
    [1.0, 1.0, 1.0001, 1.0001, 1.0001, 1.0001, 1.0001, 1.0001, 1.0001, 1.0001, 1.0001, 1.0001, 1.0001, 1.0001, 1.0001, 1.0001, 1.0001, 1.0001],
    [1.0, 1.0, 1.0, 1.0, 1.0, 1.0, 1.0, 1.0, 1.0, 1.0, 1.0, 1.0, 1.0, 0.99995, 0.9999, 0.9999, 0.9999, 0.9999],
    [1.0, 1.0, 0.9999, 0.9999, 0.9999, 0.9999, 0.9999, 0.9999, 0.9999, 0.99985, 0.9998, 0.9998, 0.9998, 0.9998, 0.9998, 0.9998, 0.9998, 0.9998],
    [1.0, 0.99995, 0.9999, 0.99985, 0.99985, 0.99982, 0.9998, 0.9998, 0.9998, 0.99979, 0.99978, 0.99976, 0.99975, 0.99975, 0.99975, 0.99975, 0.99975, 0.99975],
]

# colour position (autumn_r) of the nuclei and their opacity
main_nuclei_t = [0.35, 0.6, 1.0]
main_nuclei_alpha = [0.45, 0.6, 1.0]
main_nuclei_lw = [2.0, 2.0, 2.6]
ratio_nuclei_t = [0.3, 0.4, 0.5, 0.6, 0.75, 0.9, 1.0]
ratio_nuclei_alpha = [0.4, 0.45, 0.5, 0.55, 0.65, 0.8, 1.0]

# ---------------------------------------------------------------- style
sns.set_theme(style="ticks")
plt.rcParams.update({
    "font.family": "serif",
    "font.serif": ["cmr10"],
    "mathtext.fontset": "cm",
    "axes.formatter.use_mathtext": True,
    "axes.unicode_minus": False,
    "axes.edgecolor": "#333333",
    "axes.linewidth": 1.1,
    "xtick.color": "#333333",
    "ytick.color": "#333333",
    "xtick.labelcolor": "black",
    "ytick.labelcolor": "black",
})

PROTON_C = "#333333"
NEUTRON_C = "#3333ff"
cmap = plt.get_cmap("autumn_r")

W, H = 1396, 848
fig = plt.figure(figsize=(W / 100, H / 100), dpi=100)


def rect(x0, x1, y0, y1):
    return [x0 / W, 1 - y1 / H, (x1 - x0) / W, (y1 - y0) / H]


cols = [(96, 452), (557, 912), (1019, 1374)]
rows = [((76, 284), (284, 388)), ((457, 684), (684, 797))]

row_cfg = [
    dict(ylim=(0.989, 1.23), yticks=[1.00, 1.05, 1.10, 1.15, 1.20], fmt="%.2f",
         rlim=(0.993, 1.007), rticks=[0.995, 1.000, 1.005], rfmt="%.3f",
         title_y=0.96, q2_y=0.915, lab_x=-0.148, rlab_x=-0.152),
    dict(ylim=(0.995, 1.065), yticks=[1.00, 1.02, 1.04, 1.06], fmt="%.2f",
         rlim=(0.996, 1.004), rticks=[0.9975, 1.0000, 1.0025], rfmt="%.4f",
         title_y=0.957, q2_y=0.9, lab_x=-0.148, rlab_x=-0.174),
]

panels = [
    # row 0: F2
    dict(r=0, c=0, p=r2_nc_proton, n=r2_nc_neutron,
         nuc=[r2_nuclei_light, r2_nuclei_mid, r2_nuclei_heavy],
         rp=ratio_r2_nc_proton, rn=ratio_r2_nc_neutron, rnuc=ratio_r2_nc_nuclei,
         ylab=r"$R_2^{NC}$", rlab=r"$R_2^{NC}\,/\,R_{2,ave}^{NC}$"),
    dict(r=0, c=1, p=r2_wp_proton, n=r2_wp_neutron,
         nuc=[r2_nuclei_light, r2_nuclei_mid, r2_nuclei_heavy],
         rp=ratio_r2_wp_proton, rn=ratio_r2_wp_neutron, rnuc=ratio_r2_wp_nuclei,
         ylab=r"$R_2^{W^+}$", rlab=r"$R_2^{W^+}\,/\,R_{2,ave}^{W^+}$"),
    dict(r=0, c=2, p=r2_wm_proton, n=r2_wm_neutron,
         nuc=[r2_nuclei_light, r2_nuclei_mid, r2_nuclei_heavy],
         rp=ratio_r2_wm_proton, rn=ratio_r2_wm_neutron, rnuc=ratio_r2_wm_nuclei,
         ylab=r"$R_2^{W^-}$", rlab=r"$R_2^{W^-}\,/\,R_{2,ave}^{W^-}$"),
    # row 1: F3
    dict(r=1, c=0, p=r3_nc_proton, n=r3_nc_neutron,
         nuc=[r3_nuclei_light, r3_nuclei_mid, r3_nuclei_heavy],
         rp=ratio_r3_nc_proton, rn=ratio_r3_nc_neutron, rnuc=ratio_r3_nc_nuclei,
         ylab=r"$R_3^{NC}$", rlab=r"$R_3^{NC}\,/\,R_{3,ave}^{NC}$"),
    dict(r=1, c=1, p=r3_wp_proton, n=r3_wp_neutron,
         nuc=[r3_nuclei_light, r3_nuclei_mid, r3_nuclei_heavy],
         rp=ratio_r3_wp_proton, rn=ratio_r3_wp_neutron, rnuc=ratio_r3_wp_nuclei,
         ylab=r"$R_3^{W^+}$", rlab=r"$R_3^{W^+}\,/\,R_{3,ave}^{W^+}$"),
    dict(r=1, c=2, p=r3_wm_proton, n=r3_wm_neutron,
         nuc=[r3_nuclei_light, r3_nuclei_mid, r3_nuclei_heavy],
         rp=ratio_r3_wm_proton, rn=ratio_r3_wm_neutron, rnuc=ratio_r3_wm_nuclei,
         ylab=r"$R_3^{W^-}$", rlab=r"$R_3^{W^-}\,/\,R_{3,ave}^{W^-}$"),
]

# bold Computer Modern for the panel annotations
q_title = r"$\boldsymbol{Q}$ =$\{$1.3, 1.5, 2, 3, 4, 6$\}$ GeV"
q2_title = r"$\boldsymbol{Q}$ = 2"


def curve(ax, ys, color, ls="-", lw=1.5, alpha=1.0):
    sns.lineplot(x=x_grid, y=ys, ax=ax, color=color, linestyle=ls, lw=lw,
                 alpha=alpha, estimator=None, sort=False, legend=False)


def style_axes(ax):
    ax.set_xlim(0.1, 0.95)
    ax.xaxis.set_major_locator(FixedLocator([0.2, 0.4, 0.6, 0.8]))
    ax.grid(True, ls="--", color="#b0b0b0", lw=0.8)
    ax.tick_params(axis="both", direction="out", length=4, width=1, labelsize=12.5)
    ax.set_xlabel("")


for pn in panels:
    (mt, mb), (rt, rb) = rows[pn["r"]]
    x0, x1 = cols[pn["c"]]
    cfg = row_cfg[pn["r"]]

    ax = fig.add_axes(rect(x0, x1, mt, mb))
    for i in range(len(q_values)):
        curve(ax, pn["p"][i], PROTON_C, "--", 1.5)
        curve(ax, pn["n"][i], NEUTRON_C, ":", 1.6)
        for arr, t, a, lw in zip(pn["nuc"], main_nuclei_t, main_nuclei_alpha, main_nuclei_lw):
            curve(ax, arr[i], cmap(t), "-", lw, a)
    style_axes(ax)
    ax.set_ylim(*cfg["ylim"])
    ax.yaxis.set_major_locator(FixedLocator(cfg["yticks"]))
    ax.yaxis.set_major_formatter(FormatStrFormatter(cfg["fmt"]))
    ax.tick_params(axis="x", bottom=False, labelbottom=False)
    ax.set_ylabel(pn["ylab"], fontsize=15)
    ax.yaxis.set_label_coords(cfg["lab_x"], 0.5)
    ax.text(0.025, cfg["title_y"], q_title, transform=ax.transAxes, ha="left", va="top",
            fontsize=14, family="cmb10")

    axr = fig.add_axes(rect(x0, x1, rt, rb))
    curve(axr, pn["rp"], PROTON_C, "--", 1.5)
    curve(axr, pn["rn"], NEUTRON_C, ":", 1.6)
    for arr, t, a in zip(pn["rnuc"], ratio_nuclei_t, ratio_nuclei_alpha):
        curve(axr, arr, cmap(t), "-", 1.8, a)
    style_axes(axr)
    axr.set_ylim(*cfg["rlim"])
    axr.yaxis.set_major_locator(FixedLocator(cfg["rticks"]))
    axr.yaxis.set_major_formatter(FormatStrFormatter(cfg["rfmt"]))
    axr.set_ylabel(pn["rlab"], fontsize=15)
    axr.yaxis.set_label_coords(cfg["rlab_x"], 0.5)
    axr.set_xlabel("x", fontsize=15, labelpad=2)
    axr.text(0.025, cfg["q2_y"], q2_title, transform=axr.transAxes, ha="left", va="top",
             fontsize=15, family="cmb10")


# ---------------------------------------------------------------- legend
class GradientKey:
    pass


class HandlerGradient(HandlerBase):
    def create_artists(self, legend, orig_handle, xdescent, ydescent,
                       width, height, fontsize, trans):
        n = 60
        arts = []
        for k in range(n):
            arts.append(Rectangle((-xdescent + k * width / n, -ydescent - 0.1 * height),
                                  width / n * 1.05, height * 1.2,
                                  facecolor=cmap(k / (n - 1)), edgecolor="none",
                                  transform=trans))
        return arts


handles = [
    Line2D([], [], color=PROTON_C, ls="--", lw=3.5),
    Line2D([], [], color=NEUTRON_C, ls=":", lw=3.5),
    GradientKey(),
]
fig.legend(handles, ["Proton", "Neutron", "Nuclei"], loc="upper center",
           bbox_to_anchor=(0.524, 1.003), ncol=3, fontsize=24, frameon=True,
           fancybox=True, edgecolor="#cccccc", handlelength=2.0,
           handletextpad=1.1, columnspacing=2.2, borderpad=0.45, borderaxespad=0,
           handler_map={GradientKey: HandlerGradient()})

fig.savefig("out.png", dpi=100)
